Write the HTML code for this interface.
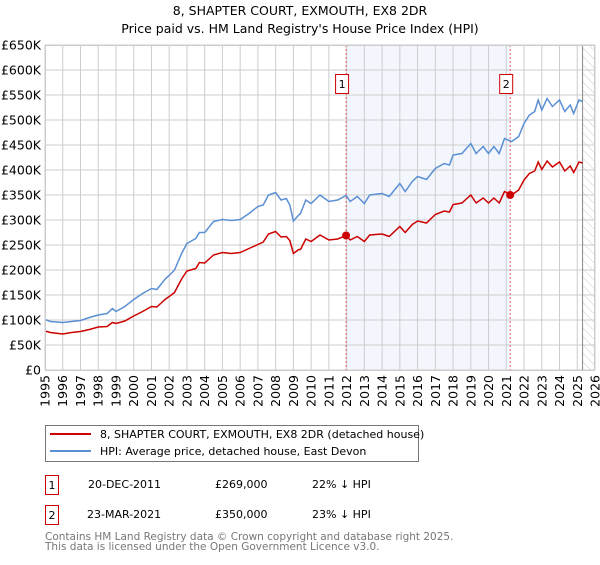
<!DOCTYPE html>
<html><head><meta charset="utf-8"><style>
body{margin:0;background:#fff;font-family:"Liberation Sans","DejaVu Sans",sans-serif;}
svg text{font-family:"DejaVu Sans","Liberation Sans",sans-serif;}
</style></head><body>
<svg id="c" width="600" height="560" xmlns="http://www.w3.org/2000/svg">
<defs><pattern id="hatch" width="6" height="6" patternUnits="userSpaceOnUse" patternTransform="rotate(-45)"><line x1="0" y1="0" x2="0" y2="6" stroke="#ccc" stroke-width="1"/></pattern></defs>
<text x="300" y="15" text-anchor="middle" font-size="12.5">8, SHAPTER COURT, EXMOUTH, EX8 2DR</text>
<text x="300" y="33" text-anchor="middle" font-size="12.5">Price paid vs. HM Land Registry's House Price Index (HPI)</text>
<g id="plot"></g>
<g>
<rect x="45.5" y="425.5" width="373" height="36" fill="#fff" stroke="#777"/>
<line x1="50" y1="434" x2="91" y2="434" stroke="#cc0000" stroke-width="2"/>
<text x="100" y="438" font-size="11">8, SHAPTER COURT, EXMOUTH, EX8 2DR (detached house)</text>
<line x1="50" y1="451" x2="91" y2="451" stroke="#5b8fd4" stroke-width="2"/>
<text x="100" y="455" font-size="11">HPI: Average price, detached house, East Devon</text>
</g>
<g font-size="11">
<rect x="45.5" y="475.5" width="13" height="19" fill="#fff" stroke="#cc0000"/><text x="52" y="489" text-anchor="middle">1</text>
<text x="88" y="488">20-DEC-2011</text><text x="215" y="488">£269,000</text><text x="312" y="488">22% ↓ HPI</text>
<rect x="45.5" y="505.5" width="13" height="19" fill="#fff" stroke="#cc0000"/><text x="52" y="519" text-anchor="middle">2</text>
<text x="87" y="518">23-MAR-2021</text><text x="215" y="518">£350,000</text><text x="312" y="518">23% ↓ HPI</text>
</g>
<text x="45" y="540" font-size="10.5" fill="#777">Contains HM Land Registry data © Crown copyright and database right 2025.</text>
<text x="45" y="550" font-size="10.5" fill="#777">This data is licensed under the Open Government Licence v3.0.</text>
</svg>
<script>
const years=[1995,1995.3,1996,1996.5,1997,1997.5,1998,1998.5,1998.8,1999,1999.5,2000,2000.5,2001,2001.3,2001.8,2002,2002.3,2002.7,2003,2003.5,2003.7,2004,2004.5,2005,2005.5,2006,2006.5,2007,2007.3,2007.6,2008,2008.3,2008.6,2008.8,2009,2009.3,2009.4,2009.7,2010,2010.5,2011,2011.5,2011.97,2012.2,2012.6,2013,2013.3,2014,2014.4,2015,2015.3,2015.7,2016,2016.5,2017,2017.5,2017.8,2018,2018.5,2019,2019.3,2019.7,2020,2020.3,2020.6,2020.9,2021.3,2021.7,2022,2022.3,2022.6,2022.8,2023,2023.3,2023.6,2024,2024.3,2024.6,2024.8,2025.1,2025.3];
const hpiValues=[101,97,95,97,99,105,110,113,123,117,127,141,153,163,161,183,189,200,233,253,263,275,275,297,301,299,301,313,327,330,350,355,340,343,330,298,310,313,340,333,350,337,340,349,337,347,333,350,353,347,373,357,377,387,381,403,413,410,430,433,453,433,447,433,447,433,463,457,467,493,510,517,540,520,543,527,540,517,530,513,540,537];
const priceValues=[78,75,72,75,77,81,86,87,95,93,98,108,117,127,126,142,147,155,182,198,203,215,214,230,235,233,235,243,251,256,272,277,266,267,259,233,241,241,262,257,270,260,262,269,260,267,257,270,272,267,287,275,291,298,294,311,318,316,331,334,350,334,344,334,344,334,357,350,360,380,393,398,416,401,418,406,416,398,408,395,416,414];
const saleYears=[2011.97,2021.22];
const salePrices=[269,350];
const saleLabels=["1","2"];
const yTicks=[0,50,100,150,200,250,300,350,400,450,500,550,600,650];
const yTickLabels=["£0","£50K","£100K","£150K","£200K","£250K","£300K","£350K","£400K","£450K","£500K","£550K","£600K","£650K"];
const xStart=1995,xEnd=2026,forecastStart=2025.3;

const L=45,R=595,T=45,B=370;
const sx=y=>L+(y-xStart)/(xEnd-xStart)*(R-L);
const sy=v=>B-v/650*(B-T);
const NS="http://www.w3.org/2000/svg";
const g=document.getElementById('plot');
function mk(tag,attrs,parent){const e=document.createElementNS(NS,tag);for(const k in attrs)e.setAttribute(k,attrs[k]);(parent||g).appendChild(e);return e;}
let e=mk('rect',{x:sx(saleYears[0]),y:T,width:sx(saleYears[1])-sx(saleYears[0]),height:B-T,fill:'#eef3fc',opacity:0.7});


e=mk('rect',{x:sx(forecastStart),y:T,width:R-sx(forecastStart),height:B-T,fill:'url(#hatch)'});


for(let i=0;i<yTicks.length;i++){
 const y=sy(yTicks[i]);
 e=mk('line',{x1:L,x2:R,y1:y,y2:y,stroke:'#ccc','stroke-width':1});
 
 
 e=mk('text',{x:41,y:y+4.5,'text-anchor':'end','font-size':12.5});
 e.textContent=yTickLabels[i];
 
 
}
for(let yr=xStart;yr<=xEnd;yr++){
 const x=sx(yr);
 e=mk('line',{x1:x,x2:x,y1:T,y2:B,stroke:'#ccc','stroke-width':1});
 
 
 e=mk('text',{x:0,y:0,'text-anchor':'end','font-size':12.5,transform:`translate(${x+4.5},375) rotate(-90)`});
 e.textContent=yr;
 
 
}
e=mk('line',{x1:sx(forecastStart),x2:sx(forecastStart),y1:T,y2:B,stroke:'#888','stroke-width':1});


for(let i=0;i<saleYears.length;i++){
 const x=sx(saleYears[i]);
 e=mk('line',{x1:x,x2:x,y1:T,y2:B,stroke:'#e06060','stroke-width':1,'stroke-dasharray':'2,2'});
 
 
 e=mk('rect',{x:x-10.5,y:74.5,width:13,height:19,fill:'#fff',stroke:'#cc0000'});
 
 
 e=mk('text',{x:x-4,y:88,'text-anchor':'middle','font-size':11});
 e.textContent=saleLabels[i];
 
 
}
const pts=(vals)=>years.map((y,i)=>sx(y).toFixed(1)+','+sy(vals[i]).toFixed(1)).join(' ');
e=mk('polyline',{points:pts(hpiValues),fill:'none',stroke:'#5b8fd4','stroke-width':1.5});


e=mk('polyline',{points:pts(priceValues),fill:'none',stroke:'#cc0000','stroke-width':1.5});


for(let i=0;i<saleYears.length;i++){
 e=mk('circle',{cx:sx(saleYears[i]),cy:sy(salePrices[i]),r:4,fill:'#cc0000'});
 
 
}
e=mk('rect',{x:L+0.5,y:T+0.5,width:R-L-1,height:B-T,fill:'none',stroke:'#ccc'});


</script>
</body></html>
